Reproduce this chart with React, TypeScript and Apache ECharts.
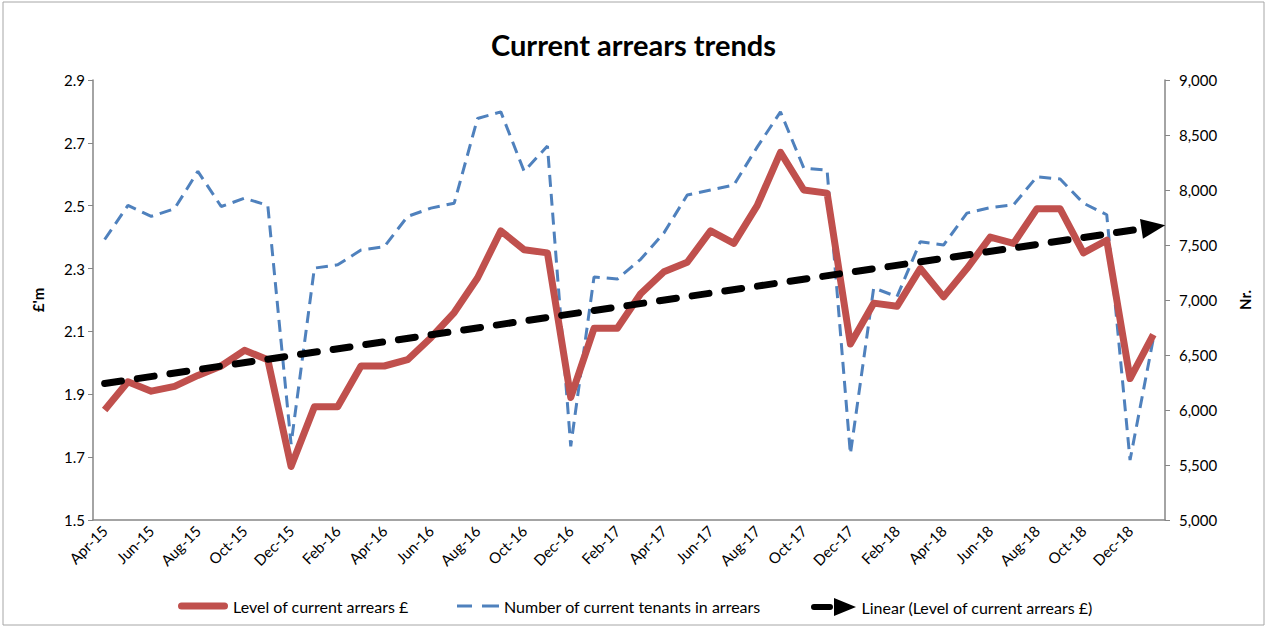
import React, { useEffect, useRef } from "react";
import * as echarts from "echarts";

const months = [
  "Apr-15", "May-15", "Jun-15", "Jul-15", "Aug-15", "Sep-15", "Oct-15", "Nov-15", "Dec-15",
  "Jan-16", "Feb-16", "Mar-16", "Apr-16", "May-16", "Jun-16", "Jul-16", "Aug-16", "Sep-16",
  "Oct-16", "Nov-16", "Dec-16", "Jan-17", "Feb-17", "Mar-17", "Apr-17", "May-17", "Jun-17",
  "Jul-17", "Aug-17", "Sep-17", "Oct-17", "Nov-17", "Dec-17", "Jan-18", "Feb-18", "Mar-18",
  "Apr-18", "May-18", "Jun-18", "Jul-18", "Aug-18", "Sep-18", "Oct-18", "Nov-18", "Dec-18",
  "Jan-19",
];

// Level of current arrears (£m)
const arrearsLevel = [
  1.85, 1.94, 1.91, 1.925, 1.96, 1.99, 2.04, 2.01, 1.67,
  1.86, 1.86, 1.99, 1.99, 2.01, 2.08, 2.16, 2.27, 2.42,
  2.36, 2.35, 1.89, 2.11, 2.11, 2.22, 2.29, 2.32, 2.42,
  2.38, 2.5, 2.67, 2.55, 2.54, 2.06, 2.19, 2.18, 2.3,
  2.21, 2.3, 2.4, 2.38, 2.49, 2.49, 2.35, 2.39, 1.95,
  2.09,
];

// Number of current tenants in arrears
const tenantsInArrears = [
  7550, 7860, 7760, 7830, 8170, 7850, 7925, 7860, 5690,
  7290, 7320, 7455, 7485, 7760, 7835, 7880, 8650, 8710,
  8170, 8400, 5670, 7210, 7190, 7370, 7610, 7955, 8000,
  8045, 8390, 8710, 8200, 8180, 5600, 7110, 7030, 7530,
  7500, 7790, 7840, 7865, 8120, 8100, 7880, 7775, 5545,
  6650,
];

const leftTicks = { min: 1.5, max: 2.9, interval: 0.2 };
const rightTicks = { min: 5000, max: 9000, interval: 500 };

const seriesNames = [
  "Level of current arrears £",
  "Number of current tenants in arrears",
  "Linear (Level of current arrears £)",
];

const FONT = "Lato, 'Open Sans', sans-serif";

function linearFit(ys: number[]) {
  const n = ys.length;
  let sx = 0, sy = 0, sxx = 0, sxy = 0;
  ys.forEach((y, i) => {
    sx += i; sy += y; sxx += i * i; sxy += i * y;
  });
  const b = (n * sxy - sx * sy) / (n * sxx - sx * sx);
  const a = (sy - b * sx) / n;
  return { a, b };
}

export default function App() {
  const ref = useRef<HTMLDivElement>(null);

  useEffect(() => {
    if (!ref.current) return;
    const chart = echarts.init(ref.current, null, { renderer: "svg" });
    const { a, b } = linearFit(arrearsLevel);
    const last = arrearsLevel.length - 1;
    const trendStart = a;
    const trendEnd = a + b * last;

    const legendText = { color: "#000", fontSize: 16, fontFamily: FONT };

    chart.setOption({
      animation: false,
      backgroundColor: "#fff",
      title: {
        text: "Current arrears trends",
        left: "center",
        top: 25,
        textStyle: { fontSize: 29, fontWeight: "bold", color: "#000", fontFamily: FONT },
      },
      graphic: [
        {
          type: "rect",
          shape: { x: 3, y: 2, width: 1261, height: 623 },
          style: { fill: "none", stroke: "#a6a6a6", lineWidth: 1 },
          silent: true,
        },
      ],
      legend: [
        {
          data: [seriesNames[0]],
          left: 178,
          top: 598,
          padding: 0,
          itemWidth: 50,
          itemHeight: 7,
          itemGap: 0,
          icon: "path://M3.5,0 H46.5 A3.5,3.5 0 0 1 46.5,7 H3.5 A3.5,3.5 0 0 1 3.5,0 Z",
          textStyle: legendText,
          selectedMode: false,
        },
        {
          data: [seriesNames[1]],
          left: 457,
          top: 598,
          padding: 0,
          itemWidth: 42,
          itemHeight: 3,
          itemGap: 0,
          icon: "path://M0,0 H15 V3 H0 Z M25,0 H42 V3 H25 Z",
          textStyle: legendText,
          selectedMode: false,
        },
        {
          data: [seriesNames[2]],
          left: 811,
          top: 598,
          padding: 0,
          itemWidth: 46,
          itemHeight: 18,
          itemGap: 0,
          icon: "path://M4,6 H20 A3,3 0 0 1 20,12 H4 A3,3 0 0 1 4,6 Z M24,0 L46,9 L24,18 Z",
          textStyle: legendText,
          selectedMode: false,
        },
      ],
      grid: { left: 93, right: 102, top: 80, bottom: 108, containLabel: false },
      xAxis: {
        type: "category",
        data: months,
        boundaryGap: true,
        axisLine: { lineStyle: { color: "#868686", width: 1.5 } },
        axisTick: { interval: 1, length: 5, lineStyle: { color: "#868686" } },
        axisLabel: {
          interval: 1,
          rotate: 45,
          color: "#000",
          fontSize: 15,
          fontFamily: FONT,
          margin: 8,
        },
        splitLine: { show: false },
      },
      yAxis: [
        {
          type: "value",
          min: leftTicks.min,
          max: leftTicks.max,
          interval: leftTicks.interval,
          name: "£'m",
          nameLocation: "middle",
          nameRotate: 90,
          nameGap: 48,
          nameTextStyle: { color: "#000", fontSize: 15, fontWeight: "bold", fontFamily: FONT },
          axisLine: { show: true, lineStyle: { color: "#868686", width: 1.5 } },
          axisTick: { show: true, length: 5, lineStyle: { color: "#868686" } },
          axisLabel: {
            color: "#000",
            fontSize: 15,
            fontFamily: FONT,
            margin: 8,
            formatter: (v: number) => v.toFixed(1),
          },
          splitLine: { show: false },
        },
        {
          type: "value",
          min: rightTicks.min,
          max: rightTicks.max,
          interval: rightTicks.interval,
          position: "right",
          name: "Nr.",
          nameLocation: "middle",
          nameRotate: 90,
          nameGap: 72,
          nameTextStyle: { color: "#000", fontSize: 15, fontWeight: "bold", fontFamily: FONT },
          axisLine: { show: true, lineStyle: { color: "#868686", width: 1.5 } },
          axisTick: { show: true, length: 5, lineStyle: { color: "#868686" } },
          axisLabel: {
            color: "#000",
            fontSize: 15,
            fontFamily: FONT,
            margin: 14,
            formatter: (v: number) => v.toLocaleString("en-GB"),
          },
          splitLine: { show: false },
        },
      ],
      series: [
        {
          name: seriesNames[1],
          type: "line",
          yAxisIndex: 1,
          data: tenantsInArrears,
          showSymbol: false,
          symbol: "none",
          itemStyle: { color: "#4F81BD" },
          lineStyle: { color: "#4F81BD", width: 3, type: [12, 7] },
          z: 2,
        },
        {
          name: seriesNames[0],
          type: "line",
          yAxisIndex: 0,
          data: arrearsLevel,
          showSymbol: false,
          symbol: "none",
          itemStyle: { color: "#C0504D" },
          lineStyle: { color: "#C0504D", width: 7, join: "round" },
          z: 3,
        },
        {
          name: seriesNames[2],
          type: "line",
          yAxisIndex: 0,
          data: [],
          showSymbol: false,
          symbol: "none",
          itemStyle: { color: "#000" },
          lineStyle: { color: "#000", width: 0 },
          z: 4,
          markLine: {
            silent: true,
            symbol: ["none", "triangle"],
            symbolSize: [20, 24],
            label: { show: false },
            lineStyle: { color: "#000", width: 7, type: [17, 16], cap: "round" },
            data: [
              [
                { coord: [0, trendStart] },
                { coord: [last, trendEnd] },
              ],
            ],
          },
        },
      ],
    });

    return () => chart.dispose();
  }, []);

  return (
    <div
      ref={ref}
      style={{ position: "fixed", left: 0, top: 0, width: 1267, height: 628, background: "#fff" }}
    />
  );
}
